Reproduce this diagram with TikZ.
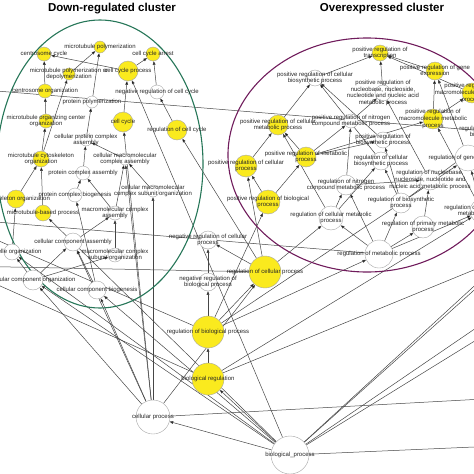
\documentclass[tikz,border=0pt]{standalone}
\usepackage{fontspec}
\setmainfont{Liberation Sans}
\usetikzlibrary{arrows.meta}
\definecolor{goyellow}{RGB}{250,234,30}
\definecolor{downgreen}{RGB}{38,118,88}
\definecolor{uppurple}{RGB}{112,28,92}
\definecolor{arcgray}{RGB}{70,70,70}
\pgfdeclarelayer{edges}
\pgfsetlayers{edges,main}

\begin{document}
\begin{tikzpicture}[x=1pt, y=-1pt,
	 yterm/.style={circle, draw=gray!70, fill=goyellow, inner sep=0pt, minimum size=#1},
	 wterm/.style={circle, draw=gray!70, fill=white, inner sep=0pt, minimum size=#1},
	 every label/.style={font=\fontsize{6}{6.6}\selectfont, align=center, inner sep=0pt, text=black!85},
	 arc/.style={draw=arcgray, line width=0.5pt, -{Triangle[length=3.6pt,width=2.8pt]}},
	 farc/.style={draw=arcgray, line width=0.5pt},
	 cluster/.style={font=\fontsize{11.5}{13}\selectfont\bfseries}]

	 \useasboundingbox (0,0) rectangle (474,474);
	 \clip (0,0) rectangle (474,474);

	 % the two clusters
	 \draw[downgreen, line width=1.1pt] (100,164) ellipse [x radius=103, y radius=144];
	 \draw[uppurple, line width=1.1pt] (367,155) ellipse [x radius=139, y radius=117];
	 \node[cluster] (downt) at (112,9) {Down-regulated cluster};
	 \node[cluster] (overt) at (382,9) {Overexpressed cluster};

	 % down-regulated terms
	 \node[yterm=12pt, label=center:{microtubule polymerization}] (mtp) at (100,47) {};
	 \node[yterm=14pt, label=center:{centrosome cycle}] (csc) at (44,54) {};
	 \node[yterm=14pt, label=center:{cell cycle arrest}] (cca) at (153,54) {};
	 \node[yterm=12pt, label=center:{microtubule polymerization or\\depolymerization}] (mpd) at (69,74) {};
	 \node[yterm=20pt, label=center:{cell cycle process}] (ccp) at (128,71) {};
	 \node[yterm=14pt, label=center:{centrosome organization}] (cso) at (45,91) {};
	 \node[wterm=14pt, label=center:{negative regulation of cell cycle}] (nrcc) at (157,92) {};
	 \node[wterm=12pt, label=center:{protein polymerization}] (ppol) at (92,102) {};
	 \node[yterm=20pt, label=center:{cell cycle}] (cc) at (123,122) {};
	 \node[yterm=20pt, label=center:{regulation of cell cycle}] (rcc) at (177,130) {};
	 \node[yterm=14pt, label=center:{microtubule organizing center\\organization}] (moc) at (46,121) {};
	 \node[wterm=12pt, label=center:{cellular protein complex\\assembly}] (cpca) at (86,140) {};
	 \node[yterm=16pt, label=center:{microtubule cytoskeleton\\organization}] (mco) at (41,159) {};
	 \node[wterm=12pt, label=center:{cellular macromolecular\\complex assembly}] (cmca) at (125,159) {};
	 \node[wterm=14pt, label=center:{protein complex assembly}] (pca) at (83,173) {};
	 \node[wterm=14pt, label=center:{protein complex biogenesis}] (pcb) at (75,195) {};
	 \node[wterm=12pt, label=center:{cellular macromolecular\\complex subunit organization}] (cmso) at (153,191) {};
	 \node[yterm=18pt, label=center:{cytoskeleton organization}] (cyto) at (16,199) {};
	 \node[yterm=16pt, label=center:{microtubule-based process}] (mbp) at (43,213) {};
	 \node[wterm=14pt, label=center:{macromolecular complex\\assembly}] (mca) at (115,213) {};
	 \node[wterm=18pt, label=center:{cellular component assembly}] (cpa) at (73,242) {};
	 \node[wterm=14pt, label=center:{macromolecular complex\\subunit organization}] (mcso) at (115,255) {};
	 \node[wterm=16pt, label=center:{organelle organization}] (oo) at (12,252) {};
	 \node[wterm=20pt, label=center:{cellular component organization}] (cco) at (33,280) {};
	 \node[wterm=18pt, label=center:{cellular component biogenesis}] (ccb) at (97,290) {};

	 % shared terms
	 \node[wterm=18pt, label=center:{negative regulation of cellular\\process}] (nrcp) at (208,240) {};
	 \node[wterm=18pt, label=center:{negative regulation of\\biological process}] (nrbp) at (208,282) {};
	 \node[yterm=32pt, label=center:{regulation of biological process}] (rbp) at (208,332) {};
	 \node[yterm=32pt, label=center:{biological regulation}] (br) at (208,379) {};
	 \node[wterm=34pt, label=center:{cellular process}] (cp) at (153,417) {};
	 \node[wterm=38pt, label=center:{biological\_process}] (bp) at (290,455) {};
	 \node[yterm=32pt, label=center:{regulation of cellular process}] (rcp) at (265,272) {};

	 % overexpressed terms
	 \node[yterm=24pt, label=center:{positive regulation of biological\\process}] (prbp) at (268,202) {};
	 \node[yterm=22pt, label=center:{positive regulation of cellular\\process}] (prcp) at (246,166) {};
	 \node[yterm=20pt, label=center:{positive regulation of cellular\\metabolic process}] (prcmp) at (278,125) {};
	 \node[yterm=20pt, label=center:{positive regulation of metabolic\\process}] (prmp) at (306,157) {};
	 \node[wterm=16pt, label=center:{positive regulation of cellular\\biosynthetic process}] (prcbp) at (315,78) {};
	 \node[yterm=16pt, label=center:{positive regulation of\\transcription}] (prt) at (380,53) {};
	 \node[yterm=18pt, label=center:{positive regulation of gene\\expression}] (prge) at (435,71) {};
	 \node[wterm=16pt, label=center:{positive regulation of\\nucleobase, nucleoside,\\nucleotide and nucleic acid\\metabolic process}] (prnb) at (383,93) {};
	 \node[yterm=20pt, label=center:{positive regulation of\\macromolecule biosynthetic\\process}] (prmbp) at (472,93) {};
	 \node[yterm=20pt, label=center:{positive regulation of\\macromolecule metabolic\\process}] (prmmp) at (433,119) {};
	 \node[wterm=14pt, label=center:{positive regulation of nitrogen\\compound metabolic process}] (prncmp) at (351,121) {};
	 \node[wterm=16pt, label=center:{positive regulation of\\biosynthetic process}] (prbsp) at (383,140) {};
	 \node[wterm=18pt, label=center:{regulation of cellular\\biosynthetic process}] (rcbp) at (381,161) {};
	 \node[wterm=26pt, label=center:{regulation of gene expression}] (rge) at (468,158) {};
	 \node[wterm=20pt, label=center:{regulation of macromolecule\\biosynthetic process}] (rmbp) at (497,132) {};
	 \node[wterm=20pt, label=center:{regulation of nucleobase,\\nucleoside, nucleotide and\\nucleic acid metabolic process}] (rnb) at (430,180) {};
	 \node[wterm=20pt, label=center:{regulation of nitrogen\\compound metabolic process}] (rncmp) at (346,185) {};
	 \node[wterm=20pt, label=center:{regulation of biosynthetic\\process}] (rbsp) at (401,203) {};
	 \node[wterm=24pt, label=center:{regulation of cellular metabolic\\process}] (rcmp) at (331,218) {};
	 \node[wterm=22pt, label=center:{regulation of primary metabolic\\process}] (rpmp) at (423,227) {};
	 \node[wterm=28pt, label=center:{regulation of metabolic process}] (rmp) at (379,254) {};
	 \node[wterm=24pt, label=center:{regulation of macromolecule\\metabolic process}] (rmmp) at (482,211) {};

	 % terms outside the frame
	 \coordinate (wl1) at (-40,88);
	 \coordinate (wl2) at (-40,219);
	 \coordinate (wl3) at (-40,266);
	 \coordinate (wl4) at (-40,224);
	 \coordinate (wl5) at (-40,268);
	 \coordinate (er1) at (520,244);
	 \coordinate (er2) at (520,249);
	 \coordinate (er3) at (520,298);
	 \coordinate (er4) at (520,313);
	 \coordinate (er5) at (520,445);
	 \coordinate (er6) at (520,397);
	 \coordinate (er7) at (520,251);

	 \begin{pgfonlayer}{edges}
	 \path[arc] (bp) edge (cp) edge (br) edge (cco) edge (ccb) edge (oo) edge (mbp) edge (ccp);
	 \path[farc] (bp) edge (er1) edge (er2) edge (er3) edge (er4) edge (er5);
	 \path[arc] (cp) edge (cc) edge (cmso) edge (cmca) edge (cco) edge (ccb) edge (cpa) edge (rcp);
	 \path[farc] (cp) edge (er6);
	 \path[arc] (br) edge (rbp) edge (rmmp);
	 \path[farc] (br) edge (er7);
	 \path[arc] (rbp) edge (nrbp) edge (rcp) edge (prbp) edge (rmp) edge (rge);
	 \path[farc] (wl4) edge (rbp) (wl5) edge (br);
	 \path[arc] (nrbp) edge (nrcp);
	 \path[arc] (rcp) edge (nrcp) edge (prcp) edge (rcmp) edge (rcc);
	 \path[farc] (rcp) edge (wl3) (wl2) edge (rmp) (wl1) edge (rmbp);
	 \path[arc] (prbp) edge (prcp) edge (prmp);
	 \path[arc] (prcp) edge (prcmp);
	 \path[arc] (prmp) edge (prcmp) edge (prmmp) edge (prncmp) edge (prbsp);
	 \path[arc] (prcmp) edge (prcbp);
	 \path[arc] (prbsp) edge (prcbp);
	 \path[arc] (prncmp) edge (prnb);
	 \path[arc] (prmmp) edge (prge) edge (prmbp);
	 \path[arc] (prge) edge (prt);
	 \path[arc] (prnb) edge (prt);
	 \path[arc] (prcbp) edge (prt);
	 \path[arc] (prmbp) edge (prt);
	 \path[arc] (rmp) edge (rcmp) edge (rpmp) edge (rbsp) edge (rncmp) edge (rmmp);
	 \path[arc] (rcmp) edge (prcmp) edge (rcbp) edge (rncmp);
	 \path[arc] (rbsp) edge (rcbp) edge (prbsp) edge (rmbp);
	 \path[arc] (rcbp) edge (prcbp);
	 \path[arc] (rpmp) edge (rnb);
	 \path[arc] (rncmp) edge (rnb) edge (prncmp);
	 \path[arc] (rnb) edge (prnb);
	 \path[arc] (rmmp) edge (rge) edge (prmmp);
	 \path[arc] (rge) edge (prge);
	 \path[arc] (ccp) edge (cca) edge (csc);
	 \path[arc] (cc) edge (ccp);
	 \path[arc] (rcc) edge (nrcc);
	 \path[arc] (nrcc) edge (cca);
	 \path[arc] (cso) edge (csc);
	 \path[arc] (moc) edge (cso);
	 \path[arc] (mco) edge (moc) edge (mpd);
	 \path[arc] (mpd) edge (mtp);
	 \path[arc] (ppol) edge (mtp);
	 \path[arc] (cpca) edge (ppol);
	 \path[arc] (pca) edge (cpca);
	 \path[arc] (cmca) edge (cpca);
	 \path[arc] (mca) edge (pca) edge (cmca);
	 \path[arc] (pcb) edge (pca);
	 \path[arc] (cmso) edge (cmca);
	 \path[arc] (mcso) edge (mca);
	 \path[arc] (cpa) edge (mca);
	 \path[arc] (ccb) edge (cpa) edge (pcb);
	 \path[arc] (cyto) edge (mco);
	 \path[arc] (mbp) edge (mco);
	 \path[arc] (oo) edge (cyto);
	 \path[arc] (cco) edge (oo) edge (cpa) edge (mcso);
	 \end{pgfonlayer}

\end{tikzpicture}
\end{document}
